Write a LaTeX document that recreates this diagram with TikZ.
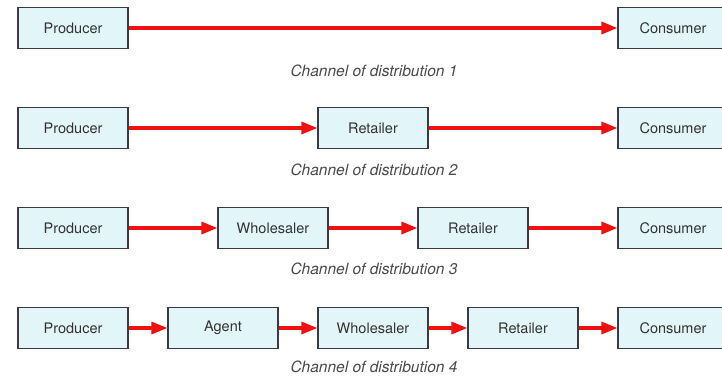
\documentclass[tikz,border=0pt]{standalone}
\usepackage{fontspec}
\setmainfont{TeX Gyre Heros}
\usetikzlibrary{arrows.meta}
\definecolor{boxfill}{HTML}{E2F5F8}
\definecolor{boxline}{HTML}{3A3A44}
\definecolor{arrowred}{HTML}{F01010}
\definecolor{captext}{HTML}{4A4A4A}
\tikzset{
  chbox/.style={draw=boxline, line width=1.2pt, fill=boxfill, minimum width=110pt, minimum height=41pt, inner sep=0pt, font=\fontsize{14.5}{16}\selectfont, text=black!80},
  flow/.style={draw=arrowred, line width=3.2pt, -{Triangle[length=16pt,width=12pt]}, shorten >=0pt},
  caption/.style={font=\fontsize{15.5}{17}\selectfont\itshape, text=captext}
}
\begin{document}
\begin{tikzpicture}[x=1pt,y=-1pt]
\useasboundingbox (0,0) rectangle (722,378);
\clip (0,0) rectangle (722,378);
\fill[white] (0,0) rectangle (722,378);
% Row 1
\node[chbox] (p1) at (73,28) {Producer};
\node[chbox] (c1) at (673,28) {Consumer};
\draw[flow] (p1.east) -- (c1.west);
\node[caption] (t1) at (374,71) {Channel of distribution 1};
% Row 2
\node[chbox] (p2) at (73,128) {Producer};
\node[chbox] (r2) at (373,128) {Retailer};
\node[chbox] (c2) at (673,128) {Consumer};
\draw[flow] (p2.east) -- (r2.west);
\draw[flow] (r2.east) -- (c2.west);
\node[caption] (t2) at (374,170) {Channel of distribution 2};
% Row 3
\node[chbox] (p3) at (73,228) {Producer};
\node[chbox] (w3) at (273,228) {Wholesaler};
\node[chbox] (r3) at (473,228) {Retailer};
\node[chbox] (c3) at (673,228) {Consumer};
\draw[flow] (p3.east) -- (w3.west);
\draw[flow] (w3.east) -- (r3.west);
\draw[flow] (r3.east) -- (c3.west);
\node[caption] (t3) at (374,269) {Channel of distribution 3};
% Row 4
\node[chbox] (p4) at (73,328) {Producer};
\node[chbox] (a4) at (223,328) {Agent};
\node[chbox] (w4) at (373,328) {Wholesaler};
\node[chbox] (r4) at (523,328) {Retailer};
\node[chbox] (c4) at (673,328) {Consumer};
\draw[flow] (p4.east) -- (a4.west);
\draw[flow] (a4.east) -- (w4.west);
\draw[flow] (w4.east) -- (r4.west);
\draw[flow] (r4.east) -- (c4.west);
\node[caption] (t4) at (374,367) {Channel of distribution 4};
\end{tikzpicture}
\end{document}
